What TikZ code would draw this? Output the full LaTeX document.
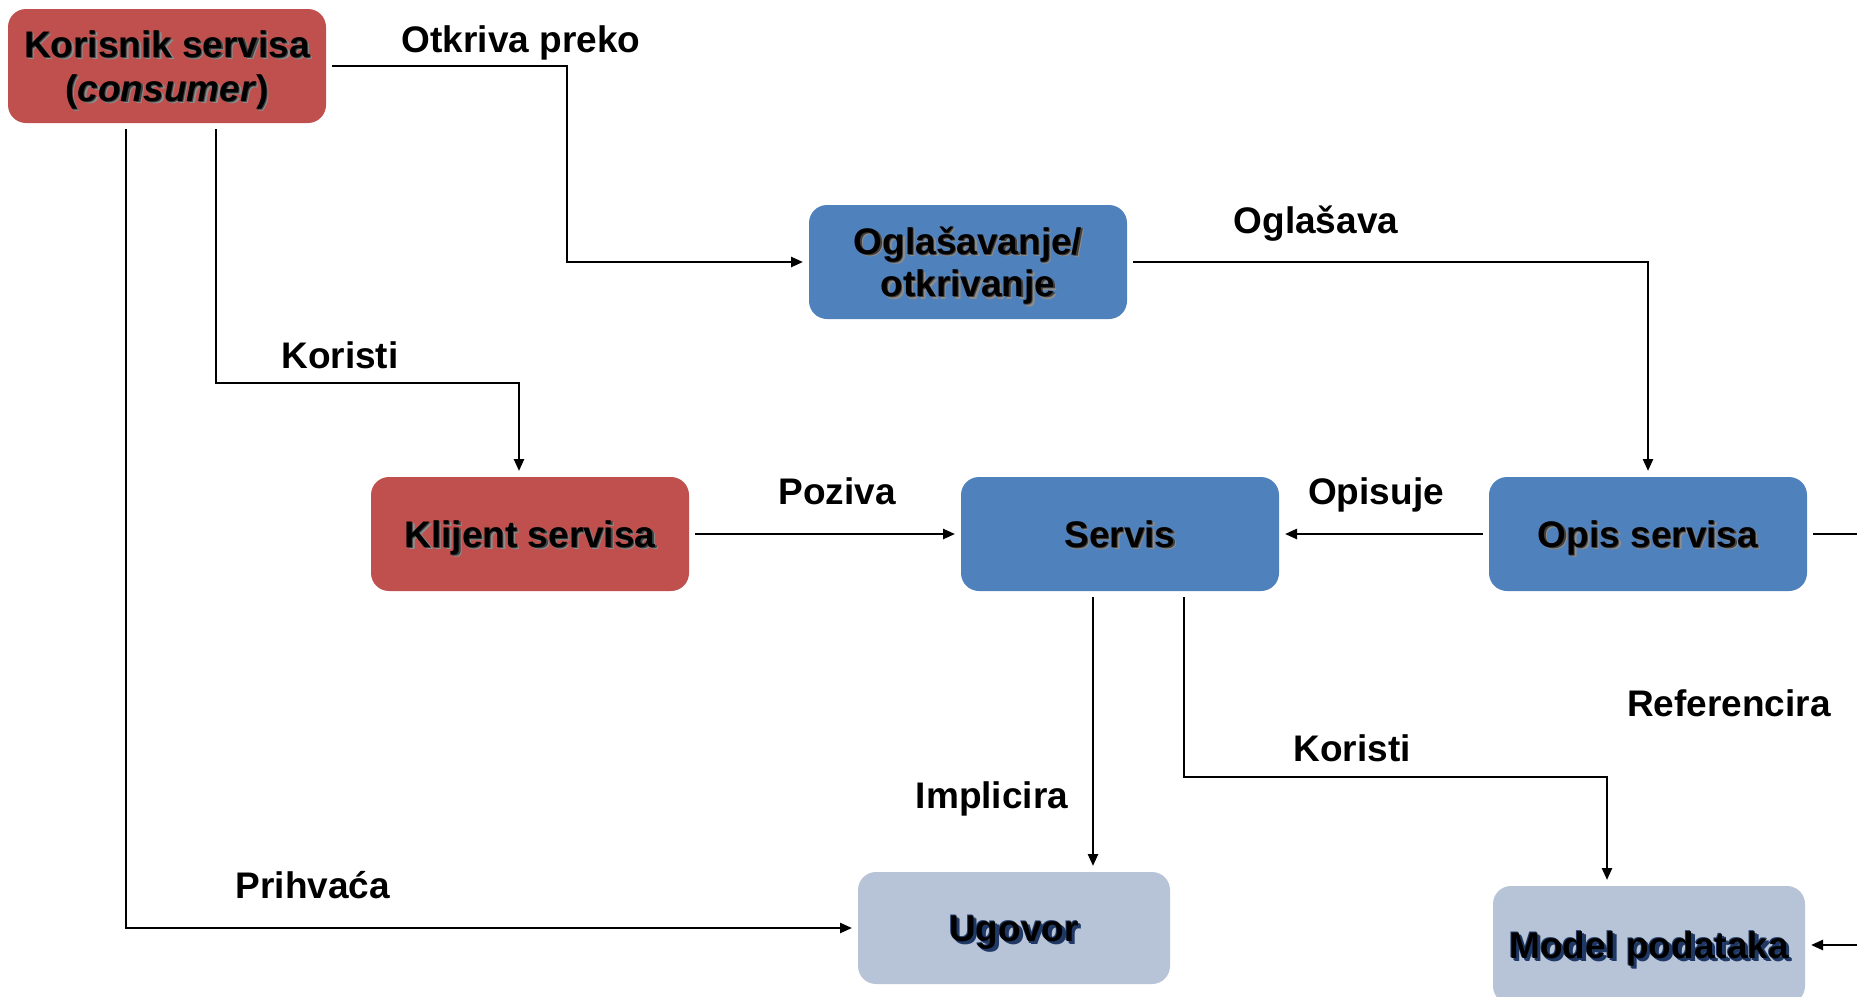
\documentclass[tikz,border=0pt]{standalone}
\usepackage{fontspec}
\setmainfont{Liberation Sans}
\usetikzlibrary{arrows.meta}

\definecolor{redbox}{RGB}{192,80,77}
\definecolor{bluebox}{RGB}{79,129,189}
\definecolor{greybox}{RGB}{183,195,214}
\definecolor{navyshade}{RGB}{31,56,100}

% text with a soft dark drop shadow
\newcommand\shtxt[1]{%
  \makebox[0pt][l]{\hspace{2.5pt}\raisebox{-2.5pt}{\textcolor{black!45}{#1}}}%
  \makebox[0pt][l]{\hspace{1.2pt}\raisebox{-1.2pt}{\textcolor{black!75}{#1}}}%
  #1}
% text with a navy glow, used on the pale boxes
\newcommand\glowtxt[1]{%
  \makebox[0pt][l]{\hspace{3.5pt}\raisebox{-3.5pt}{\textcolor{navyshade}{#1}}}%
  \makebox[0pt][l]{\hspace{1.8pt}\raisebox{-1.8pt}{\textcolor{navyshade}{#1}}}%
  \makebox[0pt][l]{\hspace{-1pt}\raisebox{1pt}{\textcolor{navyshade}{#1}}}%
  #1}

\tikzset{
  box/.style={rounded corners=18pt, minimum width=318pt, minimum height=114pt,
    outer sep=6pt, align=center, inner sep=0pt,
    text height=26.5pt, text depth=0pt,
    font={\fontsize{37}{44}\selectfont\bfseries}},
  % first cap line to last baseline, for two-line texts
  twolines/.style={text height=#1, text depth=0pt},
  redstyle/.style={box, fill=redbox},
  bluestyle/.style={box, fill=bluebox},
  paleboxstyle/.style={box, fill=greybox, minimum width=312pt, minimum height=112pt},
  lbl/.style={inner sep=0pt, text height=26.5pt, text depth=0pt,
    font={\fontsize{37}{44}\selectfont\bfseries}},
  arr/.style={-{Triangle[length=12pt,width=10pt]}, line width=2.4pt},
}

\begin{document}
\begin{tikzpicture}[x=1pt, y=-1pt]
\useasboundingbox (0,0) rectangle (1857,996);
\clip (0,0) rectangle (1857,996);

% boxes
\node[redstyle, twolines=70.5pt] (kor) at (167,66) {\shtxt{Korisnik servisa}\\\shtxt{(\textit{consumer})}};
\node[bluestyle, twolines=69pt] (ogl) at (968,262) {\shtxt{Oglašavanje/}\\[-1.5pt]\shtxt{otkrivanje}};
\node[redstyle] (kli) at (530,534) {\shtxt{Klijent servisa}};
\node[bluestyle] (ser) at (1120,534) {\shtxt{Servis}};
\node[bluestyle] (opis) at (1648,534) {\shtxt{Opis servisa}};
\node[paleboxstyle] (ugo) at (1014,928) {\glowtxt{Ugovor}};
\node[paleboxstyle, minimum height=118pt] (mod) at (1649,945) {\glowtxt{Model podataka}};

% connectors
\draw[arr] (kor.east) -- (567,66) |- (ogl.west);
\draw[arr] (ogl.east) -| (opis.north);
\draw[arr] ([xshift=49pt]kor.south) -- (216,383) -| ([xshift=-11pt]kli.north);
\draw[arr] ([xshift=-41pt]kor.south) |- (ugo.west);
\draw[arr] (kli.east) -- (ser.west);
\draw[arr] (opis.west) -- (ser.east);
\draw[arr] ([xshift=-27pt]ser.south) -- ([xshift=-27pt]ser.south |- ugo.north);
\draw[arr] ([xshift=64pt]ser.south) -- ++(0,180) -| ([xshift=-42pt]mod.north);
\draw[arr] (opis.east) -- ++(70,0) |- (mod.east);

% connector labels
\node[lbl] (l1) at (521,39) {Otkriva preko};
\node[lbl] (l2) at (1316,220) {Oglašava};
\node[lbl] (l3) at (340,355) {Koristi};
\node[lbl] (l4) at (313,885) {Prihvaća};
\node[lbl] (l5) at (837,491) {Poziva};
\node[lbl] (l6) at (1376,491) {Opisuje};
\node[lbl] (l7) at (992,795) {Implicira};
\node[lbl] (l8) at (1352,748) {Koristi};
\node[lbl] (l9) at (1729,703) {Referencira};
\end{tikzpicture}
\end{document}
